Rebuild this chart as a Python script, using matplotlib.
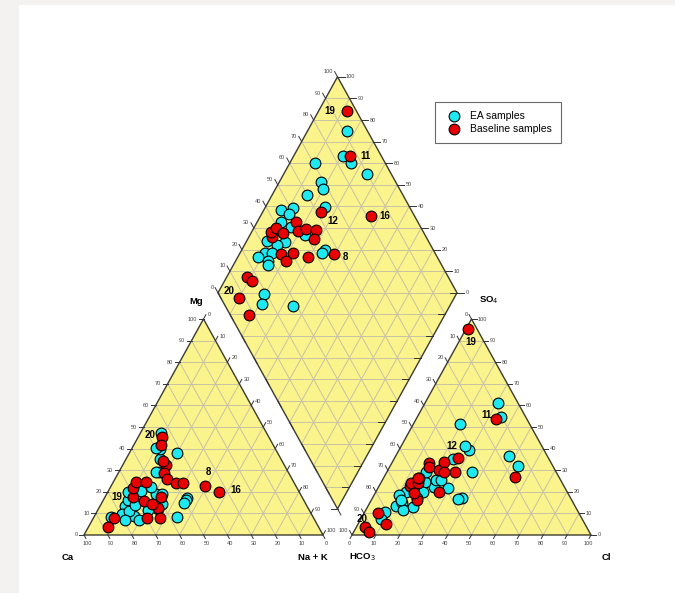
import numpy as np
import matplotlib
matplotlib.use("Agg")
import matplotlib.pyplot as plt
from matplotlib.patches import Polygon, Rectangle

plt.rcParams['font.family'] = ['Liberation Sans', 'DejaVu Sans']

# ---- data (meq %) ----
# EA samples
ea_nak = [16.7, 20.5, 25.5, 34.6, 10.5, 17.2, 20.0, 14.5, 25.0, 7.0, 12.0, 11.3, 10.0, 15.5,
          8.4, 16.5, 13.8, 10.5, 13.2, 8.5, 13.7, 34.9, 34.5, 14.4, 19.5, 34.5, 21.0, 23.0]
ea_mg = [29.0, 19.0, 14.4, 17.0, 13.4, 22.0, 37.8, 35.0, 12.0, 8.2, 39.8, 9.6, 40.1, 29.0,
         47.4, 8.9, 20.4, 16.2, 11.0, 20.0, 7.0, 8.2, 16.0, 14.0, 6.9, 15.0, 11.6, 19.0]
ea_hco3 = [8.6, 16.0, 14.6, 10.2, 29.3, 31.4, 32.1, 40.2, 35.5, 54.5, 48.9, 52.3, 57.1, 54.2,
           67.4, 60.1, 64.2, 71.2, 68.2, 75.0, 71.6, 45.3, 47.2, 72.8, 80.9, 71.5, 84.3, 50.2]
ea_so4 = [61.0, 36.7, 32.1, 54.5, 51.2, 39.4, 41.3, 35.0, 29.0, 22.4, 21.6, 25.5, 24.4, 29.3,
          19.8, 20.0, 17.0, 18.5, 12.8, 13.4, 15.0, 17.0, 16.7, 11.6, 10.8, 16.0, 7.4, 25.5]

# Baseline samples
bl_id = ['19', '11', '16', '12', '8', '20', '', '', '', '', '', '', '', '', '', '', '', '', '', '', '', '']
bl_nak = [11.8, 23.6, 46.3, 24.5, 39.4, 10.0, 18.3, 8.6, 11.5, 9.7, 8.2, 9.5, 13.4, 16.0,
          19.2, 22.0, 26.5, 27.8, 17.4, 22.2, 21.2, 29.5]
bl_mg = [17.7, 17.4, 20.0, 12.6, 22.8, 45.5, 32.4, 7.7, 41.7, 21.9, 3.6, 24.7, 24.7, 34.3,
         28.8, 25.8, 23.9, 7.7, 15.7, 8.0, 14.4, 24.2]
bl_hco3 = [4.0, 12.9, 18.3, 38.1, 42.5, 92.6, 92.1, 84.2, 83.2, 64.3, 63.5, 60.6, 58.8, 51.1,
           52.0, 48.6, 44.5, 47.2, 64.6, 59.2, 64.3, 53.8]
bl_so4 = [95.2, 53.6, 27.0, 35.5, 29.0, 3.6, 1.5, 10.0, 5.1, 22.8, 24.0, 23.9, 26.2, 33.2,
          31.6, 30.1, 33.9, 29.0, 16.2, 26.2, 19.6, 20.0]

ticks = list(range(0, 101, 10))

h = np.sqrt(3) / 2
g = 29 / 239.0


def cat_xy(mg, nak):
    mg = np.asarray(mg) / 100.0
    nak = np.asarray(nak) / 100.0
    return nak + 0.5 * mg, h * mg


def an_xy(so4, hco3):
    so4 = np.asarray(so4) / 100.0
    cl = 1 - np.asarray(hco3) / 100.0 - so4
    return 1 + g + cl + 0.5 * so4, h * so4


def dia_xy(nak, hco3):
    a = 1 - np.asarray(hco3) / 100.0
    b = 1 - np.asarray(nak) / 100.0
    return 1 + g / 2 + 0.5 * (a - b), h * (g + a + b)


fig = plt.figure(figsize=(6.75, 5.93), dpi=100)
fig.patch.set_facecolor('#f3f2f0')
ax = fig.add_axes([0, 0, 1, 1])
ax.set_facecolor('none')
ax.set_xlim(-84 / 239, (675 - 84) / 239)
ax.set_ylim((535 - 593) / 249.4, 535 / 249.4)
ax.axis('off')
ax.add_patch(Rectangle((19 / 675, 0), 1, 1 - 5 / 593, transform=fig.transFigure,
                       facecolor='white', edgecolor='none', zorder=0))

yellow = '#fbf48c'
gridc = '#c8c2a2'
edgec = '#3c3c30'
tickc = '#333333'

# pixel -> data helpers for offsets
sx, sy = 1 / 239.0, 1 / 249.4


def off(p, dpx, dpy):
    return p[0] + dpx * sx, p[1] - dpy * sy


# shapes
Lt = [(0, 0), (1, 0), (0.5, h)]
Rt = [(1 + g, 0), (2 + g, 0), (1.5 + g, h)]
B = (1 + g / 2, h * g)
Di = [B, (1.5 + g / 2, h * (1 + g)), (1 + g / 2, h * (2 + g)), (0.5 + g / 2, h * (1 + g))]
for poly in (Lt, Rt, Di):
    ax.add_patch(Polygon(poly, closed=True, facecolor=yellow, edgecolor='none', zorder=1))

# grid lines in triangles
for k in np.arange(0.1, 1.0, 0.1):
    for x0 in (0, 1 + g):
        ax.plot([x0 + k / 2, x0 + 1 - k / 2], [h * k, h * k], color=gridc, lw=0.7, zorder=2)
        ax.plot([x0 + k, x0 + k / 2 + 0.5], [0, h * (1 - k)], color=gridc, lw=0.7, zorder=2)
        ax.plot([x0 + k, x0 + k / 2], [0, h * k], color=gridc, lw=0.7, zorder=2)
# grid in diamond
for k in np.arange(0.1, 1.0, 0.1):
    p0 = dia_xy(100, 100 - 100 * k); p1 = dia_xy(0, 100 - 100 * k)
    ax.plot([p0[0], p1[0]], [p0[1], p1[1]], color=gridc, lw=0.7, zorder=2)
    p0 = dia_xy(100 - 100 * k, 100); p1 = dia_xy(100 - 100 * k, 0)
    ax.plot([p0[0], p1[0]], [p0[1], p1[1]], color=gridc, lw=0.7, zorder=2)
for k in np.arange(0.1, 2.0, 0.1):
    w = 0.5 * k if k <= 1 else 0.5 * (2 - k)
    yk = h * (g + k)
    ax.plot([B[0] - w, B[0] + w], [yk, yk], color=gridc, lw=0.7, zorder=2)

for poly in (Lt, Rt, Di):
    ax.add_patch(Polygon(poly, closed=True, facecolor='none', edgecolor=edgec, lw=1.0, zorder=3))


def tick(p, d, length, label=None, lab_off=(0, 0), ha='center'):
    n = np.hypot(*d)
    dx, dy = d[0] / n, d[1] / n
    q = off(p, dx * length, dy * length)
    ax.plot([p[0], q[0]], [p[1], q[1]], color=tickc, lw=0.7, zorder=3)
    if label is not None:
        t = off(p, dx * length + lab_off[0], dy * length + lab_off[1])
        ax.text(t[0], t[1], label, fontsize=4, color='#444444', ha=ha, va='center', zorder=3)


up_right = (0.484, -0.875)
up_left = (-0.484, -0.875)
down_right = (0.484, 0.875)
down_left = (-0.484, 0.875)
for v in ticks:
    k = v / 100.0
    # left triangle
    tick((k / 2, h * k), (-1, 0), 5, str(v), (-1.5, 0), 'right')          # Mg
    tick((1 - k, 0), down_right, 4, str(v), (1, 5), 'center')               # Ca
    tick((k + 0.5 * (1 - k), h * (1 - k)), up_right, 5, str(v), (1.5, 0), 'left')  # Na+K
    # right triangle
    tick((1 + g + k, 0), down_left, 4, str(v), (-0.5, 5), 'center')         # Cl
    tick((2 + g - k / 2, h * k), (1, 0), 5, str(v), (1.5, 0), 'left')       # SO4
    tick((1 + g + 0.5 * (1 - k), h * (1 - k)), up_left, 5, str(v), (-1.5, 0), 'right')  # HCO3
    # diamond
    tick(dia_xy(0, 100 - v), up_left, 6, str(v), (-1.5, 0), 'right')       # SO4+Cl
    tick(dia_xy(100 - v, 0), (1, 0), 7, str(v), (1.5, 0), 'left')          # Ca+Mg
    tick(dia_xy(100, 100 - v), (-1, 0), 7)
    tick(dia_xy(100 - v, 100), down_right, 7)

# axis titles
titles = [('Ca', 68, 557), ('Na + K', 313, 557), ('Mg', 196, 302), ('SO$_4$', 489, 300),
          ('HCO$_3$', 362, 557), ('Cl', 606, 557)]
for txt, px, py in titles:
    ax.text((px - 84) * sx, (535 - py) * sy, txt, fontsize=6.8, fontweight='bold',
            ha='center', va='center', zorder=4)

# points
ea_c = '#1fe9f0'
bl_c = '#e80000'
for nak, mg, hco3, so4, col, lab in ((ea_nak, ea_mg, ea_hco3, ea_so4, ea_c, 'EA samples'),
                                     (bl_nak, bl_mg, bl_hco3, bl_so4, bl_c, 'Baseline samples')):
    for i, (x, y) in enumerate((cat_xy(mg, nak), an_xy(so4, hco3), dia_xy(nak, hco3))):
        ax.scatter(x, y, s=60, c=col, edgecolors='black', linewidths=0.8, zorder=5,
                   label=lab if i == 0 else None)

# sample numbers
lab_off = {
    '19': [(-17, 0), (3, 13), (-17, 0)],
    '11': [None, (-10, -4), (15, 0)],
    '16': [(17, -2), None, (14, 0)],
    '12': [None, (-6, -12), (12, 9)],
    '8': [(3, -14), None, (12, 3)],
    '20': [(-12, -2), (-3, -8), (-10, -7)],
}
for i, sid in enumerate(bl_id):
    if not sid:
        continue
    pts = [cat_xy(bl_mg[i], bl_nak[i]), an_xy(bl_so4[i], bl_hco3[i]), dia_xy(bl_nak[i], bl_hco3[i])]
    for p, o in zip(pts, lab_off[sid]):
        if o is None:
            continue
        t = off(p, o[0], o[1])
        ax.text(t[0], t[1], sid, fontsize=7, fontweight='bold', ha='center', va='center', zorder=6)

leg = ax.legend(loc='upper left', bbox_to_anchor=(435 / 675, 1 - 102 / 593), fontsize=7.5,
                frameon=True, fancybox=False, edgecolor='#444444', borderpad=0.85,
                handletextpad=0.5, labelspacing=0.3, borderaxespad=0, handlelength=2.0)
leg.get_frame().set_linewidth(0.8)

fig.savefig('out.png', dpi=100, facecolor=fig.get_facecolor())
